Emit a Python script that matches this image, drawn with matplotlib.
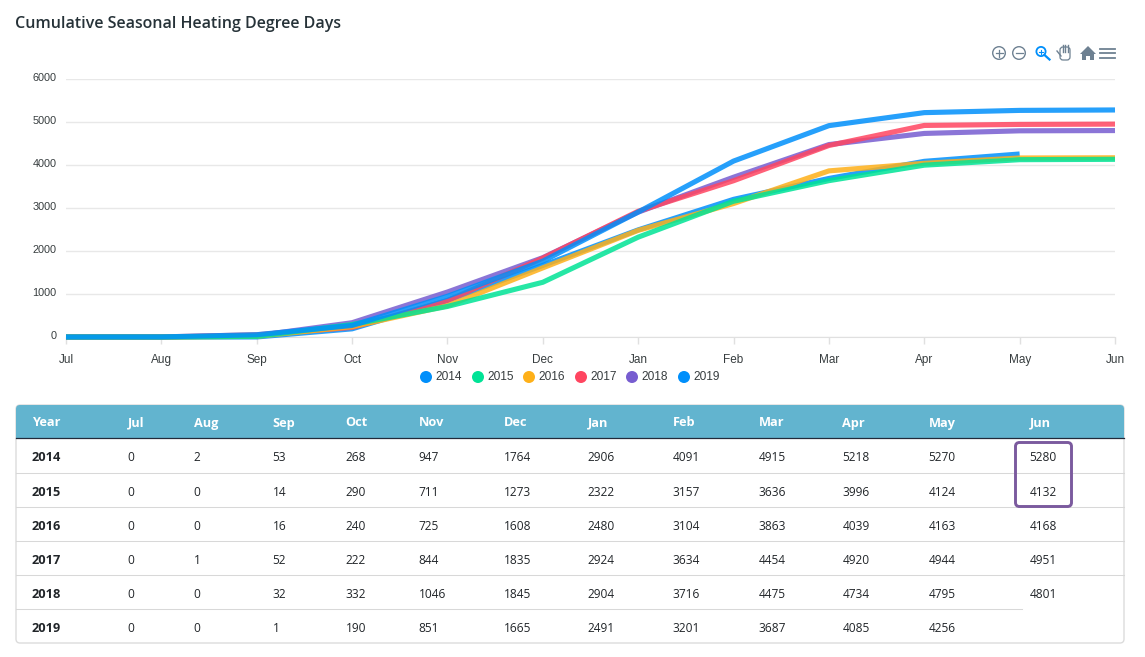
import numpy as np
import matplotlib
matplotlib.use('Agg')
import matplotlib.pyplot as plt
from matplotlib.patches import Circle, FancyBboxPatch, Rectangle, Polygon
from matplotlib.transforms import ScaledTranslation

plt.rcParams['font.family'] = ['Open Sans', 'DejaVu Sans']

months = ['Jul', 'Aug', 'Sep', 'Oct', 'Nov', 'Dec', 'Jan', 'Feb', 'Mar', 'Apr', 'May', 'Jun']
years = ['2014', '2015', '2016', '2017', '2018', '2019']

y2014 = [0, 2, 53, 268, 947, 1764, 2906, 4091, 4915, 5218, 5270, 5280]
y2015 = [0, 0, 14, 290, 711, 1273, 2322, 3157, 3636, 3996, 4124, 4132]
y2016 = [0, 0, 16, 240, 725, 1608, 2480, 3104, 3863, 4039, 4163, 4168]
y2017 = [0, 1, 52, 222, 844, 1835, 2924, 3634, 4454, 4920, 4944, 4951]
y2018 = [0, 0, 32, 332, 1046, 1845, 2904, 3716, 4475, 4734, 4795, 4801]
y2019 = [0, 0, 1, 190, 851, 1665, 2491, 3201, 3687, 4085, 4256]
series = [y2014, y2015, y2016, y2017, y2018, y2019]

colors = ['#008FFB', '#00E396', '#FEB019', '#FF4560', '#775DD0', '#008FFB']
yticks = [0, 1000, 2000, 3000, 4000, 5000, 6000]

W, H = 1145, 657
fig = plt.figure(figsize=(W / 100, H / 100), dpi=100)

# page layer in pixel coords
bg = fig.add_axes([0, 0, 1, 1])
bg.set_xlim(0, W)
bg.set_ylim(H, 0)
bg.axis('off')

# chart, first series ends up on top
ax = fig.add_axes([66 / W, 1 - 337 / H, (1115 - 66) / W, (337 - 79) / H])
ax.patch.set_alpha(0)
for i in range(len(series) - 1, -1, -1):
    vals = series[i]
    ax.plot(range(len(vals)), vals, color=colors[i], lw=3.7, alpha=0.85, solid_capstyle='butt',
            solid_joinstyle='round', clip_on=False, zorder=3)
ax.set_xlim(0, 11)
ax.set_ylim(0, 6000)
ax.set_xticks(range(12))
ax.set_xticklabels(months, fontsize=8.5, color='#373d3f', family=['Liberation Sans'])
ax.set_yticks(yticks)
ax.set_yticklabels([str(v) for v in yticks], fontsize=7.8, color='#373d3f', family=['Liberation Sans'])
ax.tick_params(axis='x', length=5, width=1, color='#e0e0e0', pad=7)
ax.tick_params(axis='y', length=0, pad=7)
up = ScaledTranslation(0, 2 / 72 * 0.72, fig.dpi_scale_trans)
for lab in ax.get_yticklabels():
    lab.set_transform(lab.get_transform() + up)
ax.grid(axis='y', color='#e8e8e8', lw=1)
ax.set_axisbelow(True)
for s in ['top', 'right', 'left']:
    ax.spines[s].set_visible(False)
ax.spines['bottom'].set_color('#e0e0e0')

# title
bg.text(15, 24, 'Cumulative Seasonal Heating Degree Days', fontsize=11.5, color='#263238',
        weight='semibold', va='center', ha='left')

# legend
legend_x = [426, 478, 529, 581, 632, 684]
for yr, c, lx in zip(years, colors, legend_x):
    bg.add_patch(Circle((lx, 377), 6, color=c, lw=0))
    bg.text(lx + 9, 377, yr, fontsize=8.6, color='#373d3f', va='center', ha='left',
            family=['Liberation Sans'])

# toolbar
icon = '#6e8192'
for cx in [999, 1019]:
    bg.add_patch(Circle((cx, 53), 6.3, fill=False, ec=icon, lw=1.0))
    bg.plot([cx - 3.5, cx + 3.5], [53, 53], color=icon, lw=0.9)
bg.plot([999, 999], [49.5, 56.5], color=icon, lw=0.9)
bg.add_patch(Circle((1041, 51.5), 4.6, fill=False, ec='#008FFB', lw=1.3))
bg.plot([1044.5, 1049.5], [55, 59.5], color='#008FFB', lw=1.6)
bg.plot([1039, 1043], [51.5, 51.5], color='#008FFB', lw=0.8)
bg.plot([1041, 1041], [49.5, 53.5], color='#008FFB', lw=0.8)
# hand
bg.add_patch(FancyBboxPatch((1060, 47), 10, 13, boxstyle='round,pad=0,rounding_size=3',
                            fc='white', ec=icon, lw=0.9))
for fx in [1062.5, 1065, 1067.5]:
    bg.plot([fx, fx], [45, 52], color=icon, lw=1.0)
bg.plot([1057, 1061], [51, 56], color=icon, lw=1)
# home
bg.add_patch(Polygon([[1080, 54], [1088, 46], [1096, 54]], closed=True, fc=icon, ec='none'))
bg.add_patch(Rectangle((1082, 53), 12, 7, fc=icon, ec='none'))
bg.add_patch(Rectangle((1086, 56), 4, 4, fc='white', ec='none'))
for hy in [48.5, 53, 57.5]:
    bg.plot([1100, 1115], [hy, hy], color=icon, lw=1.3)

# table
tbl_left, tbl_right = 16, 1124
head_top, head_bot = 405, 438
row_lines = [473, 507, 541, 575, 609]
row_text = [457.5, 492.5, 526.5, 560.5, 594.5, 628.5]
col_x = [127.5, 193.5, 272.5, 345.5, 418.5, 503.5, 587.5, 672.5, 758.5, 842.5, 928.5, 1029.5]

bg.add_patch(FancyBboxPatch((tbl_left, head_top), tbl_right - tbl_left, 643 - head_top,
                            boxstyle='round,pad=0,rounding_size=4', fc='white', ec='#dcdcdc', lw=1))
bg.add_patch(FancyBboxPatch((tbl_left, head_top), tbl_right - tbl_left, 20,
                            boxstyle='round,pad=0,rounding_size=4', fc='#62B4CF', ec='none'))
bg.add_patch(Rectangle((tbl_left, head_top + 8), tbl_right - tbl_left, head_bot - head_top - 8,
                       fc='#62B4CF', ec='none'))
bg.plot([tbl_left, tbl_right], [head_bot - 0.5, head_bot - 0.5], color='#212a3a', lw=0.9)
for ly in row_lines:
    end = 1022 if ly == 609 else tbl_right
    bg.plot([tbl_left, end], [ly - 0.5, ly - 0.5], color='#d8d8d8', lw=0.75)

bg.text(32, 423, 'Year', fontsize=9.2, color='white', weight='bold', va='center')
for m, x in zip(months, col_x):
    bg.text(x, 423, m, fontsize=9.2, color='white', weight='bold', va='center')
for yr, vals, ty in zip(years, series, row_text):
    bg.text(32, ty, yr, fontsize=9.2, color='#212529', weight='bold', va='center')
    for v, x in zip(vals, col_x):
        bg.text(x, ty, str(v), fontsize=8.6, color='#212529', va='center')

# highlight box around Jun values
bg.add_patch(FancyBboxPatch((1015.5, 442.5), 56, 64, boxstyle='round,pad=0,rounding_size=4',
                            fill=False, ec='#7B5A9E', lw=2.1, zorder=5))

fig.savefig('out.png', dpi=100)
